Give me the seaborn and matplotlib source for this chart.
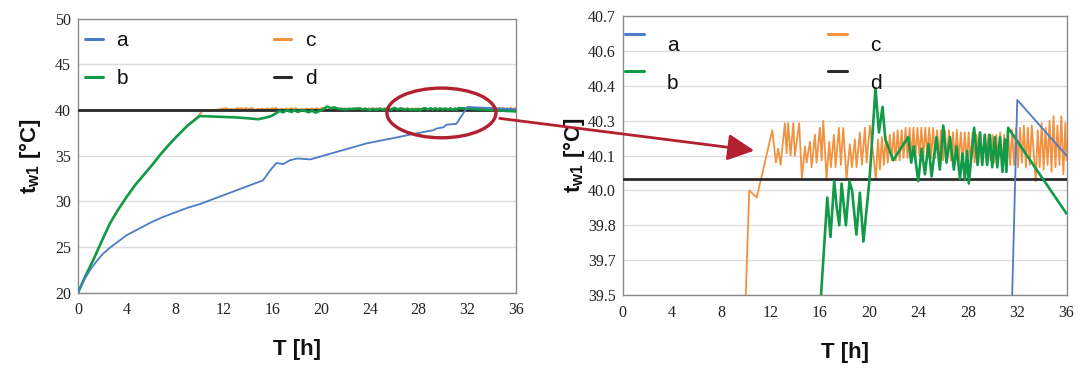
import numpy as np
import pandas as pd
import matplotlib
matplotlib.use("Agg")
import matplotlib.pyplot as plt
import seaborn as sns
from matplotlib.lines import Line2D
from matplotlib.patches import Ellipse, FancyArrowPatch
from matplotlib.legend_handler import HandlerLine2D

# ---------------- data ----------------
series_names = ["a", "b", "c", "d"]

a_t = [0, 0.5, 1.0, 1.5, 2.0, 2.6, 3.2, 4.0, 5.0, 6.0, 7.0, 8.0, 9.0, 10.0, 11.0, 12.0, 13.0, 14.0,
       15.2, 15.8, 16.3, 16.9, 17.4, 18.0, 19.1, 20.4, 22.0, 23.7, 25.8, 27.8, 29.2, 29.5, 30.0, 30.3,
       31.1, 32.0, 36.0]
a_v = [20.0, 21.4, 22.5, 23.4, 24.2, 24.9, 25.5, 26.3, 27.0, 27.7, 28.3, 28.8, 29.3, 29.7, 30.2, 30.7,
       31.2, 31.7, 32.3, 33.4, 34.2, 34.1, 34.5, 34.7, 34.6, 35.1, 35.7, 36.35, 36.9, 37.45, 37.8, 38.0,
       38.1, 38.4, 38.5, 40.34, 40.10]

b_t = [0, 0.6, 1.26, 2.0, 2.63, 3.3, 4.0, 4.7, 5.4, 6.1, 6.75, 7.4, 8.1, 9.0, 10.0, 11.0, 12.0, 13.0,
       14.0, 14.8, 15.5, 15.9, 16.59, 16.85, 17.15, 17.35, 17.56, 17.75, 18.1, 18.39, 18.6, 18.95, 19.23,
       19.52, 20.02, 20.5, 20.78, 21.07, 21.3, 21.94, 22.3, 23.16, 23.4, 23.6, 23.97, 24.24, 24.51, 24.8,
       25.05, 25.45, 25.72, 26.0, 26.26, 26.54, 26.86, 27.08, 27.35, 27.56, 27.75, 27.94, 28.07, 28.5,
       28.78, 28.97, 29.16, 29.37, 29.56, 29.76, 29.97, 30.18, 30.38, 30.6, 30.8, 31.0, 31.12, 31.26, 36.0]
b_v = [20.0, 21.8, 23.6, 25.8, 27.6, 29.1, 30.5, 31.8, 32.9, 34.0, 35.1, 36.1, 37.1, 38.3, 39.35, 39.3,
       39.25, 39.2, 39.1, 39.0, 39.2, 39.35, 39.92, 39.75, 39.99, 39.88, 39.80, 39.98, 39.80, 39.99, 39.95,
       39.76, 39.94, 39.73, 40.0, 40.39, 40.20, 40.31, 40.17, 40.08, 40.11, 40.18, 40.07, 40.14, 39.99,
       40.13, 40.02, 40.15, 40.01, 40.18, 40.04, 40.23, 40.07, 40.18, 40.04, 40.14, 40.0, 40.11, 39.995,
       40.12, 39.98, 40.22, 40.06, 40.20, 40.06, 40.19, 40.06, 40.19, 40.05, 40.18, 40.05, 40.18, 40.03,
       40.17, 40.03, 40.22, 39.85]

c_t = b_t[:14] + [
    9.85, 10.26, 10.86, 11.26,
    12.13, 12.42, 12.61, 12.80, 13.15, 13.29, 13.42, 13.61, 13.83, 13.96,
    14.31, 14.53, 14.78, 14.91, 15.18, 15.32, 15.59, 15.72, 15.99, 16.13,
    16.26, 16.53, 16.75, 16.88, 17.13, 17.26, 17.53, 17.69, 17.88, 18.15,
    18.42, 18.59, 18.83, 18.96, 19.23, 19.40, 19.64, 19.78, 20.05, 20.53,
    20.70, 20.86, 21.02, 21.18, 21.34, 21.50, 21.66, 21.82, 21.98, 22.14,
    22.30, 22.46, 22.62, 22.78, 22.94, 23.10, 23.26, 23.42, 23.58, 23.74,
    23.90, 24.06, 24.22, 24.38, 24.54, 24.70, 24.86, 25.02, 25.18, 25.34,
    25.50, 25.66, 25.82, 25.98, 26.14, 26.30, 26.46, 26.62, 26.78, 26.94,
    27.10, 27.26, 27.42, 27.58, 27.74,
    27.90, 28.06, 28.22, 28.38, 28.54, 28.70, 28.86, 29.02, 29.18, 29.34,
    29.50, 29.66, 29.82, 29.98, 30.14, 30.30, 30.46, 30.62, 30.78, 30.94,
    31.10, 31.26, 31.42, 31.58, 31.74, 31.90, 32.06, 32.22, 32.38, 32.54,
    32.70, 32.86, 33.02, 33.18, 33.50, 33.66, 33.82, 33.98, 34.14, 34.30,
    34.46, 34.62, 34.78, 34.94, 35.10, 35.26, 35.42, 35.58, 35.74, 35.90, 36.00]
c_v = b_v[:14] + [
    39.3, 39.95, 39.92, 40.01,
    40.21, 40.07, 40.13, 40.06, 40.24, 40.11, 40.24, 40.10, 40.24, 40.10,
    40.24, 40.00, 40.14, 40.07, 40.16, 40.05, 40.19, 40.07, 40.22, 40.08,
    40.25, 40.00, 40.16, 40.05, 40.19, 40.05, 40.22, 40.06, 40.22, 40.00,
    40.15, 40.05, 40.17, 40.05, 40.20, 40.06, 40.22, 40.07, 40.23, 40.00,
    40.17, 40.04, 40.18, 40.06, 40.18, 40.07, 40.19, 40.08, 40.20, 40.08,
    40.21, 40.08, 40.21, 40.09, 40.22, 40.09, 40.22, 40.09, 40.22, 40.09,
    40.22, 40.10, 40.22, 40.09, 40.22, 40.10, 40.22, 40.09, 40.22, 40.09,
    40.21, 40.09, 40.21, 40.08, 40.21, 40.08, 40.21, 40.08, 40.20, 40.08,
    40.21, 40.07, 40.20, 40.07, 40.20,
    40.07, 40.20, 40.07, 40.20, 40.07, 40.19, 40.07, 40.20, 40.07, 40.19,
    40.07, 40.19, 40.08, 40.19, 40.07, 40.19, 40.08, 40.20, 40.07, 40.19,
    40.07, 40.20, 40.06, 40.21, 40.06, 40.22, 40.05, 40.22, 40.07, 40.23,
    40.05, 40.22, 40.06, 40.23, 39.99, 40.21, 40.05, 40.24, 40.04, 40.22,
    40.06, 40.25, 40.03, 40.27, 40.05, 40.23, 40.06, 40.27, 40.02, 40.24, 40.08]

d_t = [0, 36]
d_v = [40.0, 40.0]

x_ticks = [0, 4, 8, 12, 16, 20, 24, 28, 32, 36]
left_y_ticks = [20, 25, 30, 35, 40, 45, 50]
right_y_ticks = [39.5, 39.65, 39.8, 39.95, 40.1, 40.25, 40.4, 40.55, 40.7]
right_y_labels = ["39.5", "39.7", "39.8", "40.0", "40.1", "40.3", "40.4", "40.6", "40.7"]

# ---------------- style ----------------
sns.set_theme(style="white")
plt.rcParams["font.family"] = ["Liberation Sans", "DejaVu Sans"]
plt.rcParams["mathtext.fontset"] = "custom"
plt.rcParams["mathtext.rm"] = "Liberation Sans"
plt.rcParams["mathtext.bf"] = "Liberation Sans:bold"
plt.rcParams["mathtext.it"] = "Liberation Sans:italic"

colors = {"a": "#4A7CC9", "b": "#119A48", "c": "#F2923F", "d": "#2B2B2B"}
widths = {"a": 1.3, "b": 1.9, "c": 1.3, "d": 2.0}
zorders = {"c": 3, "d": 4, "b": 5, "a": 6}
red = "#B3202F"

frames = []
for name, t, v in [("a", a_t, a_v), ("b", b_t, b_v), ("c", c_t, c_v), ("d", d_t, d_v)]:
    assert len(t) == len(v), name
    frames.append(pd.DataFrame({"T": t, "v": v, "s": name}))
df = pd.concat(frames, ignore_index=True)


class UpHandler(HandlerLine2D):
    def __init__(self, up=0.0, **kw):
        super().__init__(**kw)
        self.up = up

    def create_artists(self, legend, orig_handle, xdescent, ydescent, width, height, fontsize, trans):
        arts = super().create_artists(legend, orig_handle, xdescent, ydescent, width, height, fontsize, trans)
        for a in arts:
            if isinstance(a, Line2D):
                a.set_ydata(np.asarray(a.get_ydata(), dtype=float) + self.up * fontsize)
        return arts


fig = plt.figure(figsize=(10.85, 3.7), dpi=100)
ax1 = fig.add_axes([0.0719, 0.2089, 0.4037, 0.7403])
ax2 = fig.add_axes([0.574, 0.2027, 0.409, 0.7532])

for ax in (ax1, ax2):
    for name in ["c", "d", "b", "a"]:
        sub = df[df["s"] == name]
        sns.lineplot(data=sub, x="T", y="v", ax=ax, color=colors[name], lw=widths[name],
                     sort=False, estimator=None, zorder=zorders[name], legend=False)
    ax.set_xlim(0, 36)
    ax.set_xticks(x_ticks)
    ax.yaxis.grid(True, color="#DCDCDC", lw=1.0)
    ax.xaxis.grid(False)
    ax.set_axisbelow(True)
    for sp in ax.spines.values():
        sp.set_color("#8A8A8A")
        sp.set_linewidth(1.0)
    ax.tick_params(axis="x", direction="in", length=4, width=1, color="#8A8A8A", pad=7,
                   labelsize=11.5, labelcolor="#222222")
    ax.tick_params(axis="y", length=0, pad=5, labelsize=11.5, labelcolor="#222222")
    ax.set_xlabel("T [h]", fontsize=16, fontweight="bold", labelpad=15, color="#111111")

ax1.set_ylim(20, 50)
ax1.set_yticks(left_y_ticks)
ax1.set_yticklabels([str(v) for v in left_y_ticks], fontfamily="Liberation Serif")
ax1.set_ylabel(r"$\mathbf{t}_{\mathbf{w1}}$ [°C]", fontsize=16, fontweight="bold", labelpad=9, color="#111111")

ax2.set_ylim(39.5, 40.7)
ax2.set_yticks(right_y_ticks)
ax2.set_yticklabels(right_y_labels, fontfamily="Liberation Serif")
ax2.set_ylabel(r"$\mathbf{t}_{\mathbf{w1}}$ [°C]", fontsize=16, fontweight="bold", labelpad=1, color="#111111")
ax1.set_xticklabels([str(v) for v in x_ticks], fontfamily="Liberation Serif")
ax2.set_xticklabels([str(v) for v in x_ticks], fontfamily="Liberation Serif")

handles = [Line2D([], [], color=colors[n], lw=2.2) for n in series_names]
leg1 = ax1.legend(handles, series_names, ncol=2, loc="upper left", bbox_to_anchor=(0.016, 0.955),
                  frameon=False, fontsize=15, handlelength=0.85, handletextpad=0.65,
                  columnspacing=7.0, labelspacing=0.9, borderaxespad=0, borderpad=0)
leg2 = ax2.legend(handles, series_names, ncol=2, loc="upper left", bbox_to_anchor=(0.005, 0.93),
                  frameon=False, fontsize=15, handlelength=0.9, handletextpad=1.1,
                  columnspacing=7.2, labelspacing=0.9, borderaxespad=0, borderpad=0,
                  handler_map={Line2D: UpHandler(up=0.48)})
for t in leg1.get_texts() + leg2.get_texts():
    t.set_color("#111111")

# red ellipse on the left plot and arrow to the zoomed plot
ell = Ellipse((29.87, 39.69), 8.96, 5.44, fill=False, ec=red, lw=2.4, zorder=10, clip_on=False)
ax1.add_patch(ell)
arrow = FancyArrowPatch(posA=(0.458, 0.681), posB=(0.6977, 0.592), transform=fig.transFigure,
                        arrowstyle="-|>,head_length=0.9,head_width=0.45", mutation_scale=18,
                        color=red, lw=2.0, zorder=20)
fig.add_artist(arrow)

fig.savefig("out.png", dpi=100)
